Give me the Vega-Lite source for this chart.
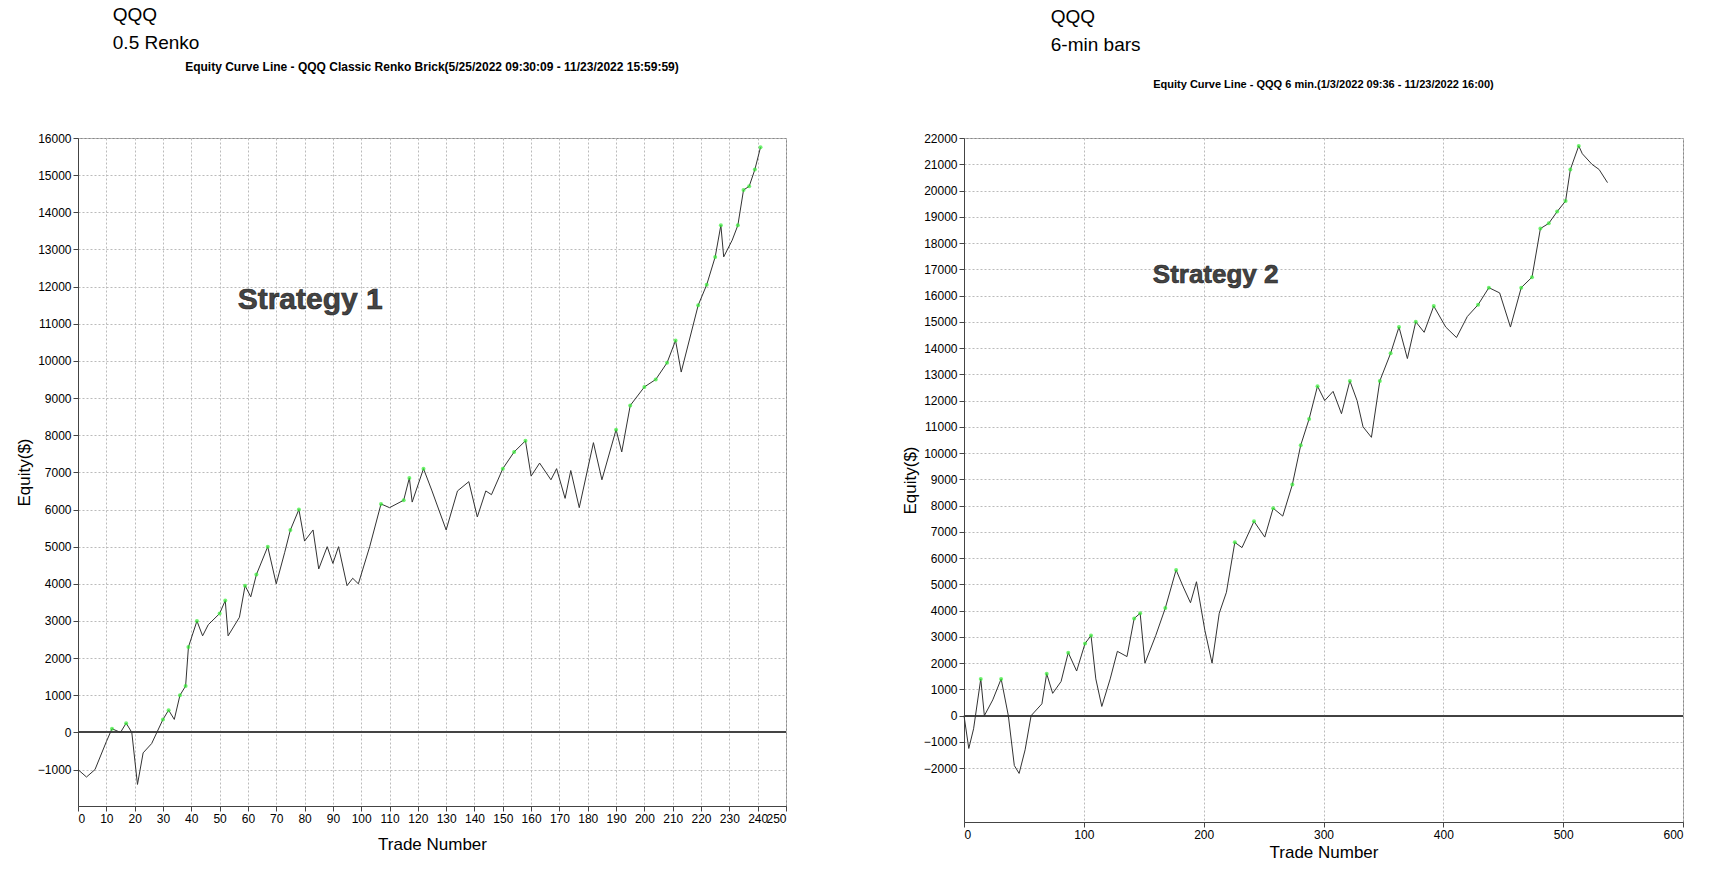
{
"$schema":"https://vega.github.io/schema/vega-lite/v6.json",
"background":"white",
"padding":{"left":14,"top":5,"right":5,"bottom":2},
"spacing":113,
"config":{"view":{"stroke":"#888"},"axis":{"gridDash":[2,2],"gridColor":"#bbb","labelFont":"Liberation Sans","titleFont":"Liberation Sans","labelFontSize":12,"titleFontSize":17,"titleFontWeight":"normal","tickColor":"#444","domainColor":"#444","labelColor":"#000","titleColor":"#000","format":"d","labelOverlap":false},"title":{"font":"Liberation Sans"}},
"datasets":{
"s1":[{"t":0,"e":-1000},{"t":3,"e":-1200},{"t":6,"e":-1000},{"t":10,"e":-250},{"t":12,"e":100},{"t":15,"e":0},{"t":17,"e":250},{"t":19,"e":0},{"t":21,"e":-1400},{"t":23,"e":-550},{"t":26,"e":-300},{"t":30,"e":350},{"t":32,"e":600},{"t":34,"e":350},{"t":36,"e":1000},{"t":38,"e":1250},{"t":39,"e":2300},{"t":42,"e":3000},{"t":44,"e":2600},{"t":46,"e":2900},{"t":50,"e":3200},{"t":52,"e":3550},{"t":53,"e":2600},{"t":57,"e":3100},{"t":59,"e":3950},{"t":61,"e":3650},{"t":63,"e":4250},{"t":67,"e":5000},{"t":70,"e":4000},{"t":73,"e":4850},{"t":75,"e":5450},{"t":78,"e":6000},{"t":80,"e":5150},{"t":83,"e":5450},{"t":85,"e":4400},{"t":88,"e":5000},{"t":90,"e":4550},{"t":92,"e":5000},{"t":95,"e":3950},{"t":97,"e":4150},{"t":99,"e":4000},{"t":103,"e":5000},{"t":107,"e":6150},{"t":110,"e":6050},{"t":115,"e":6250},{"t":117,"e":6850},{"t":118,"e":6200},{"t":122,"e":7100},{"t":125,"e":6500},{"t":130,"e":5450},{"t":134,"e":6500},{"t":138,"e":6750},{"t":141,"e":5800},{"t":144,"e":6500},{"t":146,"e":6400},{"t":150,"e":7100},{"t":154,"e":7550},{"t":158,"e":7850},{"t":160,"e":6900},{"t":163,"e":7250},{"t":167,"e":6800},{"t":169,"e":7100},{"t":172,"e":6300},{"t":174,"e":7050},{"t":177,"e":6050},{"t":182,"e":7800},{"t":185,"e":6800},{"t":190,"e":8150},{"t":192,"e":7550},{"t":195,"e":8800},{"t":200,"e":9300},{"t":204,"e":9500},{"t":208,"e":9950},{"t":211,"e":10550},{"t":213,"e":9700},{"t":219,"e":11500},{"t":222,"e":12050},{"t":225,"e":12800},{"t":227,"e":13650},{"t":228,"e":12800},{"t":231,"e":13250},{"t":233,"e":13650},{"t":235,"e":14600},{"t":237,"e":14700},{"t":239,"e":15150},{"t":241,"e":15750}],
"s2":[{"t":0,"e":0},{"t":4,"e":-1250},{"t":8,"e":-500},{"t":14,"e":1400},{"t":17,"e":0},{"t":24,"e":600},{"t":31,"e":1400},{"t":37,"e":0},{"t":42,"e":-1900},{"t":46,"e":-2200},{"t":51,"e":-1300},{"t":56,"e":0},{"t":65,"e":450},{"t":69,"e":1600},{"t":74,"e":850},{"t":81,"e":1300},{"t":87,"e":2400},{"t":94,"e":1700},{"t":101,"e":2750},{"t":106,"e":3050},{"t":110,"e":1400},{"t":115,"e":350},{"t":122,"e":1400},{"t":128,"e":2450},{"t":136,"e":2250},{"t":142,"e":3700},{"t":147,"e":3900},{"t":151,"e":2000},{"t":160,"e":3050},{"t":168,"e":4100},{"t":177,"e":5550},{"t":183,"e":4900},{"t":189,"e":4300},{"t":194,"e":5100},{"t":201,"e":3250},{"t":207,"e":2000},{"t":213,"e":3900},{"t":219,"e":4700},{"t":226,"e":6600},{"t":232,"e":6400},{"t":242,"e":7400},{"t":251,"e":6800},{"t":258,"e":7900},{"t":266,"e":7600},{"t":274,"e":8800},{"t":281,"e":10300},{"t":288,"e":11300},{"t":295,"e":12550},{"t":301,"e":12000},{"t":308,"e":12350},{"t":315,"e":11500},{"t":322,"e":12750},{"t":328,"e":12000},{"t":333,"e":11000},{"t":340,"e":10600},{"t":347,"e":12750},{"t":356,"e":13800},{"t":363,"e":14800},{"t":370,"e":13600},{"t":377,"e":15000},{"t":384,"e":14600},{"t":392,"e":15600},{"t":402,"e":14800},{"t":411,"e":14400},{"t":420,"e":15200},{"t":429,"e":15650},{"t":438,"e":16300},{"t":447,"e":16100},{"t":456,"e":14800},{"t":465,"e":16300},{"t":474,"e":16700},{"t":481,"e":18550},{"t":488,"e":18750},{"t":495,"e":19200},{"t":502,"e":19600},{"t":506,"e":20800},{"t":513,"e":21700},{"t":516,"e":21400},{"t":524,"e":21000},{"t":530,"e":20800},{"t":537,"e":20300}],
"lab1":[{"t":82,"e":11650,"l":"Strategy 1"}],
"lab2":[{"t":210,"e":16800,"l":"Strategy 2"}]
},
"hconcat":[
{"title":{"text":["QQQ","0.5 Renko"],"anchor":"start","offset":8,"fontSize":19,"fontWeight":"normal","font":"Liberation Sans","dx":98,"lineHeight":28},
 "vconcat":[{
 "width":708,"height":668,
 "title":{"text":"Equity Curve Line - QQQ Classic Renko Brick(5/25/2022 09:30:09 - 11/23/2022 15:59:59)","fontSize":12,"fontWeight":"bold","offset":58},
 "encoding":{"x":{"field":"t","type":"quantitative","title":"Trade Number","scale":{"domain":[0,250],"nice":false},"axis":{"values":[0,10,20,30,40,50,60,70,80,90,100,110,120,130,140,150,160,170,180,190,200,210,220,230,240,250],"titlePadding":12}},
  "y":{"field":"e","type":"quantitative","title":"Equity($)","scale":{"domain":[-1980,16000],"nice":false},"axis":{"values":[-1000,0,1000,2000,3000,4000,5000,6000,7000,8000,9000,10000,11000,12000,13000,14000,15000,16000]}}},
 "layer":[
  {"data":{"name":"s1"},"mark":{"type":"rule","color":"#444"},"encoding":{"y":{"datum":0},"x":null}},
  {"data":{"name":"s1"},"mark":{"type":"line","color":"#333","strokeWidth":1}},
  {"data":{"name":"s1"},"transform":[{"window":[{"op":"max","field":"e","as":"cm"}],"sort":[{"field":"t"}]},{"filter":"datum.e >= datum.cm && datum.e > 0"}],"mark":{"type":"point","color":"#33ee33","filled":true,"size":16}},
  {"data":{"name":"lab1"},"mark":{"type":"text","fontSize":30,"fontWeight":"bold","color":"#444","font":"Liberation Sans","stroke":"#222","strokeWidth":0.6},"encoding":{"text":{"field":"l"}}}
 ]}]},
{"title":{"text":["QQQ","6-min bars"],"anchor":"start","offset":6,"fontSize":19,"fontWeight":"normal","font":"Liberation Sans","dx":150,"lineHeight":28,"dy":-18},
 "vconcat":[{
 "width":719,"height":684,
 "title":{"text":"Equity Curve Line - QQQ 6 min.(1/3/2022 09:36 - 11/23/2022 16:00)","fontSize":11,"fontWeight":"bold","offset":42},
 "encoding":{"x":{"field":"t","type":"quantitative","title":"Trade Number","scale":{"domain":[0,600],"nice":false},"axis":{"values":[0,100,200,300,400,500,600],"titlePadding":4}},
  "y":{"field":"e","type":"quantitative","title":"Equity($)","scale":{"domain":[-4050,22000],"nice":false},"axis":{"values":[-2000,-1000,0,1000,2000,3000,4000,5000,6000,7000,8000,9000,10000,11000,12000,13000,14000,15000,16000,17000,18000,19000,20000,21000,22000]}}},
 "layer":[
  {"data":{"name":"s2"},"mark":{"type":"rule","color":"#444"},"encoding":{"y":{"datum":0},"x":null}},
  {"data":{"name":"s2"},"mark":{"type":"line","color":"#333","strokeWidth":1}},
  {"data":{"name":"s2"},"transform":[{"window":[{"op":"max","field":"e","as":"cm"}],"sort":[{"field":"t"}]},{"filter":"datum.e >= datum.cm && datum.e > 0"}],"mark":{"type":"point","color":"#33ee33","filled":true,"size":16}},
  {"data":{"name":"lab2"},"mark":{"type":"text","fontSize":26,"fontWeight":"bold","color":"#444","font":"Liberation Sans","stroke":"#222","strokeWidth":0.6},"encoding":{"text":{"field":"l"}}}
 ]}]}
]
}
